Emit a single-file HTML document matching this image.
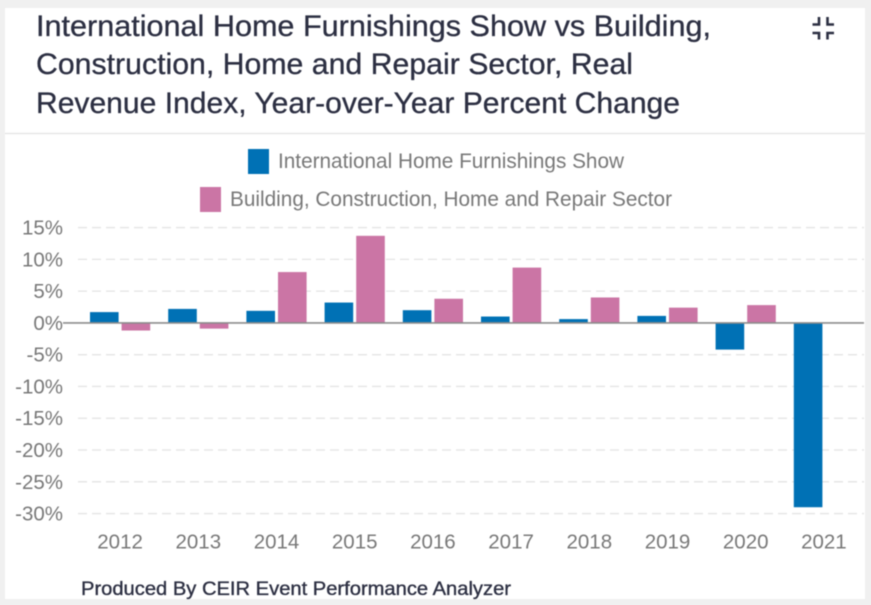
<!DOCTYPE html>
<html lang="en">
<head>
<meta charset="utf-8">
<title>International Home Furnishings Show vs Building, Construction, Home and Repair Sector</title>
<style>
html,body{margin:0;padding:0;width:871px;height:605px;overflow:hidden;background:#f0f0f0}
svg{display:block;position:absolute;left:0;top:0;filter:blur(0.55px)}
text{font-family:"Liberation Sans",sans-serif}
</style>
</head>
<body>
<svg id="chart" width="871" height="605" viewBox="0 0 871 605" xmlns="http://www.w3.org/2000/svg">
  <rect x="5" y="8" width="860" height="591" fill="#ffffff"/>
  <g fill="#2c2f42" stroke="#2c2f42" stroke-width="0.3" font-size="29.5">
    <text x="36" y="36" textLength="675" lengthAdjust="spacingAndGlyphs">International Home Furnishings Show vs Building,</text>
    <text x="36" y="74" textLength="597" lengthAdjust="spacingAndGlyphs">Construction, Home and Repair Sector, Real</text>
    <text x="36" y="113" textLength="644" lengthAdjust="spacingAndGlyphs">Revenue Index, Year-over-Year Percent Change</text>
  </g>
  <g fill="none" stroke="#2c2f42" stroke-width="2.6">
    <path d="M812.5 24.5H819V17"/>
    <path d="M834 24.5H827.5V17"/>
    <path d="M812.5 33H819V39.5"/>
    <path d="M834 33H827.5V39.5"/>
  </g>
  <line x1="5" x2="865" y1="133.5" y2="133.5" stroke="#e3e3e3" stroke-width="1.2"/>
  <g>
    <g>
      <rect x="248" y="149" width="21" height="25" fill="#0071b5"/>
      <text x="278" y="168" font-size="21" fill="#787878" textLength="346" lengthAdjust="spacingAndGlyphs">International Home Furnishings Show</text>
    </g>
    <g>
      <rect x="200" y="187" width="21" height="25" fill="#cb75a5"/>
      <text x="230" y="206" font-size="21" fill="#787878" textLength="442" lengthAdjust="spacingAndGlyphs">Building, Construction, Home and Repair Sector</text>
    </g>
  </g>
  <g id="grid"></g>
  <g id="y-labels"></g>
  <g id="bars"></g>
  <line id="zero" stroke="#8c8c8c" stroke-width="1.6"/>
  <g id="x-labels"></g>
  <text x="81" y="595" font-size="19" fill="#2c2f42" stroke="#2c2f42" stroke-width="0.35" textLength="430" lengthAdjust="spacingAndGlyphs">Produced By CEIR Event Performance Analyzer</text>
</svg>
<script>
const categories = ['2012','2013','2014','2015','2016','2017','2018','2019','2020','2021'];
const showValues = [1.7,2.2,1.9,3.2,2.0,1.0,0.6,1.1,-4.2,-29.0];
const sectorValues = [-1.2,-0.9,8.0,13.7,3.8,8.7,4.0,2.4,2.8,null];
const yTicks = [15,10,5,0,-5,-10,-15,-20,-25,-30];

const NS = 'http://www.w3.org/2000/svg';
const plotLeft = 81, plotRight = 864;
const band = 78.2, barW = 28.6, barGap = 3;
const y = v => 322.9 - v * 6.356;
const x = i => plotLeft + band * i + band / 2;

function make(tag, attrs, parent) {
  const el = document.createElementNS(NS, tag);
  Object.keys(attrs).forEach(k => el.setAttribute(k, attrs[k]));
  parent.appendChild(el);
  return el;
}
function bar(i, v, left, fill, name) {
  if (v === null) return;
  const top = Math.min(y(v), y(0));
  const el = make('rect', {x: left, y: top, width: barW, height: Math.abs(y(v) - y(0)), fill: fill}, document.getElementById('bars'));
  
  
}

yTicks.forEach(t => {
  if (t !== 0) {
    const g = make('line', {x1: plotLeft - 3, x2: plotRight, y1: y(t), y2: y(t), stroke: '#e4e4e4', 'stroke-width': 1.3, 'stroke-dasharray': '9 5'}, document.getElementById('grid'));
    
    
  }
  const l = make('text', {x: 63, y: y(t) + 7, 'text-anchor': 'end', 'font-size': 20.5, fill: '#787878'}, document.getElementById('y-labels'));
  l.textContent = t + '%';
  
  
});

categories.forEach((c, i) => {
  bar(i, showValues[i], x(i) - barGap / 2 - barW, '#0071b5', 'bar-show-' + c);
  bar(i, sectorValues[i], x(i) + barGap / 2, '#cb75a5', 'bar-sector-' + c);
  const l = make('text', {x: x(i), y: 548.5, 'text-anchor': 'middle', 'font-size': 20.5, fill: '#787878'}, document.getElementById('x-labels'));
  l.textContent = c;
  
  
});

const zero = document.getElementById('zero');
zero.setAttribute('x1', plotLeft - 18);
zero.setAttribute('x2', plotRight);
zero.setAttribute('y1', y(0));
zero.setAttribute('y2', y(0));
</script>
</body>
</html>
